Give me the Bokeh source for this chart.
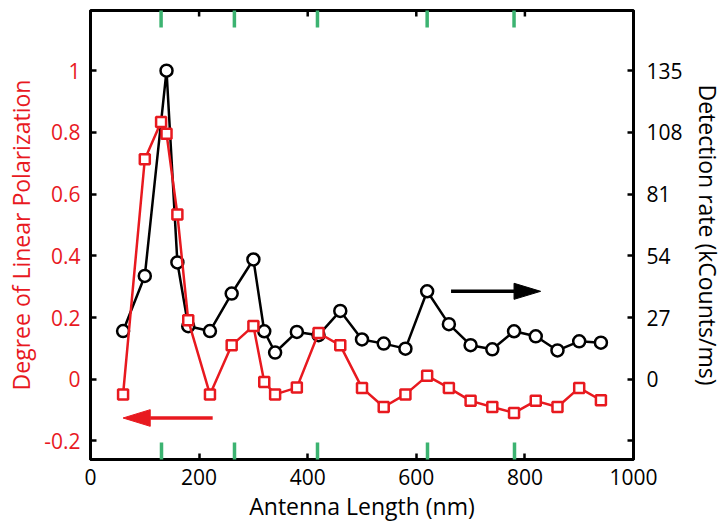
import math
from bokeh.plotting import figure
from bokeh.models import LinearAxis, Range1d, FixedTicker
from bokeh.embed import file_html
from bokeh.resources import INLINE

# ---- data ----
rate_x = [60, 100, 140, 160, 180, 220, 260, 300, 320, 340, 380, 420, 460,
          500, 540, 580, 620, 660, 700, 740, 780, 820, 860, 900, 940]
rate = [21.1, 45.2, 135.0, 51.1, 23.2, 21.1, 37.5, 52.4, 21.0, 11.7, 20.7, 19.3, 29.9,
        17.4, 15.6, 13.4, 38.5, 24.1, 14.9, 13.1, 21.0, 18.8, 12.6, 16.6, 16.0]
pol_x = [60, 100, 130, 140, 160, 180, 220, 260, 300, 320, 340, 380, 420,
         460, 500, 540, 580, 620, 660, 700, 740, 780, 820, 860, 900, 940]
pol = [-0.049, 0.713, 0.834, 0.796, 0.534, 0.191, -0.049, 0.110, 0.173, -0.009, -0.049, -0.027, 0.150,
       0.110, -0.028, -0.090, -0.049, 0.011, -0.028, -0.070, -0.090, -0.109, -0.070, -0.090, -0.028, -0.068]
resonances = [130, 265, 418, 620, 780]
x_ticks = [0, 200, 400, 600, 800, 1000]
left_ticks = [-0.2, 0, 0.2, 0.4, 0.6, 0.8, 1.0]
left_labels = ["-0.2", "0", "0.2", "0.4", "0.6", "0.8", "1"]
right_ticks = [0, 27, 54, 81, 108, 135]
right_unlabeled = [-27]

RED = "#e8191f"
GREEN = "#3cb371"
FONT = "Open Sans"
FS = "21px"
LFS = "23px"
Y0, Y1 = -0.26, 1.195

p = figure(width=726, height=529, output_backend="svg", toolbar_location=None,
           x_range=Range1d(0, 1000), y_range=Range1d(Y0, Y1),
           x_axis_location=None, y_axis_location=None,
           min_border_left=90, min_border_right=91, min_border_top=10, min_border_bottom=70)
p.extra_y_ranges = {"right": Range1d(Y0 * 135, Y1 * 135)}
p.grid.visible = False
p.outline_line_color = "black"
p.outline_line_width = 3
p.background_fill_color = "white"
p.border_fill_color = "white"


def style(ax):
    ax.axis_line_width = 3
    ax.axis_line_color = "black"
    ax.major_tick_in = 6
    ax.major_tick_out = 0
    ax.major_tick_line_width = 2.5
    ax.minor_tick_in = 17
    ax.minor_tick_out = 0
    ax.minor_tick_line_width = 3.5
    ax.minor_tick_line_color = GREEN
    ax.major_label_text_font = FONT
    ax.major_label_text_font_size = FS
    ax.major_label_text_color = "black"
    ax.axis_label_text_font = FONT
    ax.axis_label_text_font_size = LFS
    ax.axis_label_text_font_style = "normal"
    ax.axis_label_text_color = "black"


bottom = LinearAxis(ticker=FixedTicker(ticks=x_ticks, minor_ticks=resonances),
                    axis_label="Antenna Length (nm)")
style(bottom)
bottom.major_label_standoff = 9
bottom.axis_label_standoff = 2
bottom.major_label_overrides = {t: str(t) for t in x_ticks}
p.add_layout(bottom, "below")

left = LinearAxis(ticker=FixedTicker(ticks=left_ticks), axis_label="Degree of Linear Polarization")
style(left)
left.major_label_overrides = dict(zip(left_ticks, left_labels))
left.major_label_text_color = RED
left.axis_label_text_color = RED
left.major_label_standoff = 10
left.axis_label_standoff = 4
p.add_layout(left, "left")

right = LinearAxis(y_range_name="right",
                   ticker=FixedTicker(ticks=right_ticks, minor_ticks=right_unlabeled),
                   axis_label="Detection rate (kCounts/ms)")
style(right)
right.minor_tick_in = 6
right.minor_tick_line_width = 2.5
right.minor_tick_line_color = "black"
right.major_label_standoff = 13
right.axis_label_standoff = 6
p.add_layout(right, "right")

# mirrored ticks along the top edge (half of each dash is clipped by the frame)
p.scatter(x_ticks[1:-1], [Y1] * 4, marker="dash", angle=math.pi / 2, size=12,
          line_color="black", line_width=2.5)
p.scatter(resonances, [Y1] * len(resonances), marker="dash", angle=math.pi / 2, size=34,
          line_color=GREEN, line_width=3.5)

# series
p.line(rate_x, rate, y_range_name="right", line_color="black", line_width=2.5)
p.scatter(rate_x, rate, y_range_name="right", marker="circle", size=12,
          line_color="black", line_width=2.5, fill_color="white")
p.line(pol_x, pol, line_color=RED, line_width=2.5)
p.scatter(pol_x, pol, marker="square", size=10, line_color=RED, line_width=2.5,
          fill_color="white")

# arrows (left-axis units)
p.segment(x0=[110], y0=[-0.1255], x1=[225], y1=[-0.1255], line_color=RED, line_width=3.5)
p.patch([60, 110, 110], [-0.1255, -0.1525, -0.0985], color=RED)
p.segment(x0=[664], y0=[0.285], x1=[781], y1=[0.285], line_color="black", line_width=3.5)
p.patch([829, 780, 780], [0.285, 0.259, 0.311], color="black")

open("out.html", "w").write(file_html(p, INLINE))
